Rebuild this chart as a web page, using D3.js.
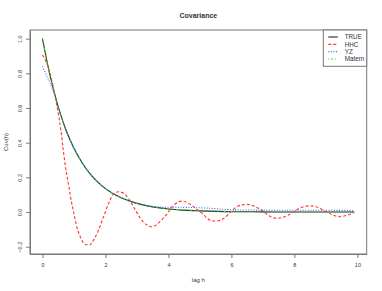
<!DOCTYPE html>
<html>
<head>
<meta charset="utf-8">
<script src="https://cdn.jsdelivr.net/npm/d3@7"></script>
<style>
  body { margin: 0; background: #fff; }
  text { font-family: "Liberation Sans", Arial, sans-serif; fill: #333; }
</style>
</head>
<body>
<script>
  // lags and values
  const lagTrue = [0, 0.25, 0.5, 0.75, 1, 1.25, 1.5, 1.75, 2, 2.5, 3, 3.5, 4, 4.5, 5, 6, 7, 8, 9, 9.9];
  const trueVals = [1.0, 0.779, 0.607, 0.472, 0.368, 0.287, 0.223, 0.174, 0.135, 0.082, 0.050, 0.030, 0.018, 0.011, 0.007, 0.002, 0.001, 0, 0, 0];
  const maternVals = [1.0, 0.776, 0.603, 0.470, 0.366, 0.286, 0.222, 0.173, 0.135, 0.082, 0.050, 0.031, 0.019, 0.012, 0.008, 0.003, 0.001, 0, 0, 0];

  const lagHHC = [0, 0.18, 0.34, 0.445, 0.52, 0.585, 0.66, 0.73, 0.82, 0.89, 1.0, 1.09, 1.2, 1.36, 1.5, 1.62, 1.78, 1.94,
                  2.10, 2.26, 2.42, 2.58, 2.73, 2.89, 3.11, 3.32, 3.48, 3.69, 3.92, 4.17, 4.43, 4.64, 4.80, 4.96,
                  5.10, 5.23, 5.44, 5.60, 5.76, 5.91, 6.07, 6.23, 6.48, 6.76, 6.92, 7.09, 7.25, 7.43, 7.62, 7.81,
                  7.99, 8.15, 8.31, 8.49, 8.68, 8.87, 9.05, 9.23, 9.40, 9.58, 9.76, 9.90];
  const hhcVals = [0.906, 0.838, 0.723, 0.627, 0.55, 0.473, 0.358, 0.261, 0.166, 0.088, -0.01, -0.085, -0.142, -0.187, -0.19, -0.162, -0.104, -0.027,
                   0.05, 0.104, 0.117, 0.108, 0.079, 0.031, -0.036, -0.075, -0.085, -0.062, -0.018, 0.040, 0.063, 0.050, 0.031, 0.008,
                   -0.012, -0.036, -0.052, -0.050, -0.036, -0.012, 0.017, 0.036, 0.044, 0.031, 0.016, -0.008, -0.027, -0.036, -0.031, -0.017,
                   0.002, 0.021, 0.031, 0.036, 0.031, 0.016, -0.002, -0.017, -0.027, -0.023, -0.013, -0.002];

  const lagYZ = [0, 0.1, 0.2, 0.3, 0.4, 0.5, 0.75, 1, 1.25, 1.5, 1.75, 2, 2.5, 3, 3.5, 3.8, 4.5, 5.3, 6, 7, 8, 9, 9.9];
  const yzVals = [0.84, 0.80, 0.76, 0.72, 0.67, 0.607, 0.472, 0.368, 0.287, 0.223, 0.174, 0.135, 0.082, 0.05, 0.032, 0.028, 0.027, 0.022, 0.013, 0.011, 0.010, 0.010, 0.009];

  const xTicks = [0, 2, 4, 6, 8, 10];
  const yTicks = [-0.2, 0, 0.2, 0.4, 0.6, 0.8, 1.0];
  const legendLabels = ["TRUE", "HHC", "YZ", "Matern"];

  const series = [
    {name: "TRUE", lag: lagTrue, vals: trueVals, color: "#222", dash: null},
    {name: "HHC", lag: lagHHC, vals: hhcVals, color: "#f33", dash: "3,2"},
    {name: "YZ", lag: lagYZ, vals: yzVals, color: "#55f", dash: "1,1.6"},
    {name: "Matern", lag: lagTrue, vals: maternVals, color: "#2d2", dash: "0.8,2,2,2"}
  ];

  const W = 382, H = 291;
  const box = {left: 30, right: 366.7, top: 30, bottom: 254};

  const svg = d3.select("body").append("svg")
    .attr("width", W).attr("height", H);

  const x = d3.scaleLinear().domain([-0.396, 10.296]).range([box.left, box.right]);
  const y = d3.scaleLinear().domain([-0.242, 1.050]).range([box.bottom, box.top]);

  // curves
  const line = d3.line()
    .x(d => x(d[0])).y(d => y(d[1]))
    .curve(d3.curveMonotoneX);

  series.forEach(s => {
    svg.append("path")
      .datum(s.lag.map((h, i) => [h, s.vals[i]]))
      .attr("d", line)
      .attr("fill", "none")
      .attr("stroke", s.color)
      .attr("stroke-width", 1.1)
      .attr("stroke-dasharray", s.dash);
  });

  // box
  svg.append("rect")
    .attr("x", box.left).attr("y", box.top)
    .attr("width", box.right - box.left).attr("height", box.bottom - box.top)
    .attr("fill", "none").attr("stroke", "#777").attr("stroke-width", 1);

  // axes
  const xAxis = svg.append("g")
    .attr("transform", `translate(0,${box.bottom})`)
    .call(d3.axisBottom(x).tickValues(xTicks).tickSize(4).tickSizeOuter(0).tickPadding(5).tickFormat(d3.format("d")));
  const yAxis = svg.append("g")
    .attr("transform", `translate(${box.left},0)`)
    .call(d3.axisLeft(y).tickValues(yTicks).tickSize(4).tickSizeOuter(0).tickFormat(d3.format(".1f")));

  [xAxis, yAxis].forEach(a => {
    a.select(".domain").attr("stroke", "#777");
    a.selectAll(".tick line").attr("stroke", "#777");
    a.selectAll("text").style("font-size", "5.5px").attr("fill", "#333");
  });
  yAxis.selectAll(".tick text")
    .attr("transform", "rotate(-90)")
    .attr("x", 0).attr("y", -8.5).attr("dy", 0)
    .attr("text-anchor", "middle");

  // titles
  svg.append("text")
    .attr("x", (box.left + box.right) / 2).attr("y", 17.5)
    .attr("text-anchor", "middle")
    .style("font-size", "7px").style("font-weight", "bold")
    .attr("fill", "#111")
    .text("Covariance");
  svg.append("text")
    .attr("x", (box.left + box.right) / 2).attr("y", 282)
    .attr("text-anchor", "middle")
    .style("font-size", "6px")
    .text("lag h");
  svg.append("text")
    .attr("transform", `translate(7.5,${(box.top + box.bottom) / 2}) rotate(-90)`)
    .attr("text-anchor", "middle")
    .style("font-size", "6px")
    .text("Cov(h)");

  // legend
  const leg = svg.append("g");
  leg.append("rect")
    .attr("x", 323.3).attr("y", box.top)
    .attr("width", box.right - 323.3).attr("height", 36.3)
    .attr("fill", "#fff").attr("stroke", "#777").attr("stroke-width", 1);
  const ly = d3.scalePoint().domain(legendLabels).range([37, 59]);
  series.forEach(s => {
    leg.append("line")
      .attr("x1", 328.3).attr("x2", 337.7)
      .attr("y1", ly(s.name)).attr("y2", ly(s.name))
      .attr("stroke", s.color).attr("stroke-width", 1.1)
      .attr("stroke-dasharray", s.dash);
    leg.append("text")
      .attr("x", 344.7).attr("y", ly(s.name)).attr("dy", "0.35em")
      .style("font-size", "6.3px")
      .text(s.name);
  });
</script>
</body>
</html>
